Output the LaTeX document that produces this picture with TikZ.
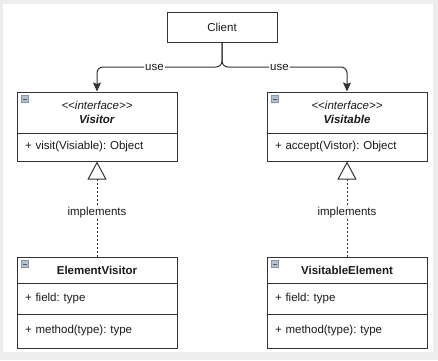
\documentclass[tikz,border=0pt]{standalone}
\usepackage{fontspec}
\setmainfont{Liberation Sans}
\usetikzlibrary{arrows.meta}
\frenchspacing

\definecolor{umlline}{HTML}{333333}
\definecolor{umltext}{HTML}{1A1A1A}
\definecolor{iconfill}{HTML}{B4C0CE}
\definecolor{icondraw}{HTML}{8795A8}
\definecolor{screen}{HTML}{EDEDED}

\tikzset{
  umlbox/.style={draw=umlline, line width=1pt, text=umltext, minimum width=160pt,
    text width=144pt, inner xsep=8pt, inner ysep=0pt,
    font=\fontsize{11.5}{14}\selectfont},
  umlhead/.style={umlbox, align=center},
  umlrow/.style={umlbox, align=left},
  uses/.style={draw=umlline, line width=1pt, rounded corners=6pt,
    -{Stealth[length=9pt,width=8pt,inset=1.5pt]}},
  realizes/.style={draw=umlline, line width=1pt, dash pattern=on 1.6pt off 2.4pt,
    -{Triangle[open,fill=white,length=18pt,width=19pt,line width=1pt]}},
  edgelabel/.style={fill=white, inner sep=1pt, text=umltext,
    font=\fontsize{11.5}{13}\selectfont}
}

% collapse icon in the top left corner of a class box
\newcommand\minusicon[1]{%
  \filldraw[fill=iconfill, draw=icondraw, line width=0.5pt]
    ([shift={(5,4)}]#1.north west) rectangle ++(7,7);
  \draw[icondraw!60!black, line width=0.8pt]
    ([shift={(6.5,7.5)}]#1.north west) -- ++(4,0);}

\begin{document}
\begin{tikzpicture}[x=1pt, y=-1pt]
  % screen and sheet
  \fill[screen] (0,0) rectangle (438,360);
  \fill[white] (3,4) rectangle (433,352);

  \node[draw=umlline, line width=1pt, text=umltext, minimum width=110pt,
    minimum height=30pt, font=\fontsize{11.5}{14}\selectfont] (client) at (222,27) {Client};

  % interfaces
  \node[umlhead, minimum height=41pt] (vhead) at (97,112.5)
    {\textit{<\kern0pt<interface>\kern0pt>}\\\textbf{\textit{Visitor}}};
  \node[umlrow, minimum height=28pt] (vbody) at (97,147) {+ visit(Visiable): Object};
  \minusicon{vhead}

  \node[umlhead, minimum height=41pt] (vihead) at (347,112.5)
    {\textit{<\kern0pt<interface>\kern0pt>}\\\textbf{\textit{Visitable}}};
  \node[umlrow, minimum height=28pt] (vibody) at (347,147) {+ accept(Vistor): Object};
  \minusicon{vihead}

  % concrete classes
  \node[umlhead, minimum height=26pt] (ehead) at (97,270) {\textbf{ElementVisitor}};
  \node[umlrow, minimum height=31pt] (efield) at (97,298.5) {+ field: type};
  \node[umlrow, minimum height=34pt] (emethod) at (97,331) {+ method(type): type};
  \minusicon{ehead}

  \node[umlhead, minimum height=26pt] (vehead) at (347,270) {\textbf{VisitableElement}};
  \node[umlrow, minimum height=31pt] (vefield) at (347,298.5) {+ field: type};
  \node[umlrow, minimum height=34pt] (vemethod) at (347,331) {+ method(type): type};
  \minusicon{vehead}

  % client uses both interfaces
  \coordinate (fork) at (222,67);
  \draw[uses] (client.south) -- (fork) -| (vhead.north)
    node[edgelabel, pos=0.27] (usel) {use};
  \draw[uses] (client.south) -- (fork) -| (vihead.north)
    node[edgelabel, pos=0.23] (user) {use};

  % realizations
  \draw[realizes] (ehead.north) -- (vbody.south)
    node[edgelabel, pos=0.46] (impl) {implements};
  \draw[realizes] (vehead.north) -- (vibody.south)
    node[edgelabel, pos=0.46] (impr) {implements};
\end{tikzpicture}
\end{document}
